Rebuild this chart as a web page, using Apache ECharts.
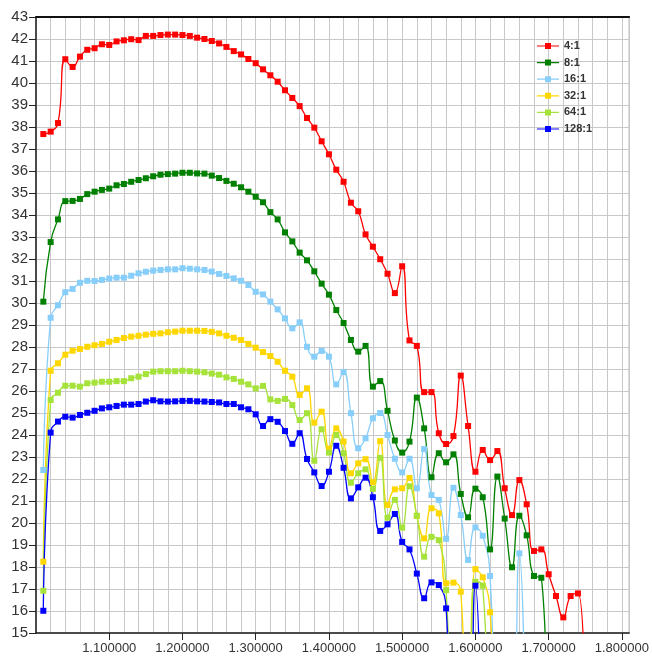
<!DOCTYPE html>
<html>
<head>
<meta charset="utf-8">
<script src="https://cdn.jsdelivr.net/npm/echarts@6/dist/echarts.min.js"></script>
<style>html,body{margin:0;padding:0;background:#fff;}#c{width:652px;height:660px;}</style>
</head>
<body>
<div id="c"></div>
<script>
var xs = [1.01,1.02,1.03,1.04,1.05,1.06,1.07,1.08,1.09,1.10,
  1.11,1.12,1.13,1.14,1.15,1.16,1.17,1.18,1.19,1.20,
  1.21,1.22,1.23,1.24,1.25,1.26,1.27,1.28,1.29,1.30,
  1.31,1.32,1.33,1.34,1.35,1.36,1.37,1.38,1.39,1.40,
  1.41,1.42,1.43,1.44,1.45,1.46,1.47,1.48,1.49,1.50,
  1.51,1.52,1.53,1.54,1.55,1.56,1.57,1.58,1.59,1.60,
  1.61,1.62,1.63,1.64,1.65,1.66,1.67,1.68,1.69,1.70,
  1.71,1.72,1.73,1.74,1.75];

var seriesNames = ['4:1','8:1','16:1','32:1','64:1','128:1'];
var seriesColors = ['#ff0000','#008000','#87cefa','#ffd700','#a6e33a','#0000ff'];

var r4 = [37.68,37.79,38.18,41.08,40.73,41.2,41.51,41.58,41.76,41.73,
  41.89,41.94,41.99,41.95,42.14,42.14,42.18,42.2,42.2,42.18,
  42.14,42.06,42.0,41.91,41.8,41.64,41.45,41.3,41.09,40.9,
  40.62,40.35,40.06,39.67,39.32,38.95,38.41,37.97,37.35,36.76,
  36.06,35.51,34.56,34.17,33.12,32.56,31.99,31.33,30.45,31.67,
  28.3,28.05,25.95,25.95,24.08,23.59,23.95,26.7,24.41,22.33,
  23.32,22.86,23.27,21.58,20.36,21.95,20.85,18.73,18.8,17.67,
  16.68,15.71,16.68,16.8,10];
var r8 = [30.06,32.77,33.8,34.63,34.64,34.73,34.95,35.06,35.14,35.2,
  35.35,35.41,35.51,35.59,35.67,35.76,35.83,35.86,35.88,35.92,
  35.92,35.89,35.88,35.79,35.68,35.55,35.42,35.26,35.06,34.83,
  34.58,34.13,33.8,33.21,32.8,32.29,31.94,31.44,30.88,30.38,
  29.68,29.09,28.32,27.79,28.05,26.2,26.45,25.1,23.75,23.2,
  23.7,25.7,24.3,22.08,23.17,22.76,23.12,21.32,20.26,21.56,
  21.17,18.8,22.11,20.2,17.99,20.33,19.44,17.59,17.51,6];
var r16 = [22.41,29.33,29.9,30.49,30.64,30.92,31.01,31.0,31.05,31.11,
  31.15,31.15,31.24,31.35,31.42,31.47,31.5,31.53,31.53,31.58,
  31.56,31.53,31.5,31.43,31.32,31.23,31.12,31.01,30.82,30.51,
  30.39,30.06,29.71,29.3,28.85,29.12,28.01,27.56,27.82,27.56,
  26.3,26.86,24.99,23.4,23.85,24.76,25.0,24.0,22.92,22.3,
  22.92,21.58,23.36,21.27,21.05,19.28,21.6,20.36,18.32,19.8,
  19.42,17.59,8,7,8,18.62,8];
var r32 = [18.24,26.92,27.26,27.65,27.83,27.91,28.01,28.08,28.14,28.24,
  28.32,28.41,28.47,28.51,28.56,28.6,28.62,28.67,28.7,28.74,
  28.74,28.74,28.73,28.69,28.62,28.51,28.42,28.32,28.14,27.97,
  27.77,27.59,27.33,26.92,26.65,25.82,26.12,24.56,25.06,23.38,
  24.3,23.7,22.26,22.71,22.9,21.85,23.72,20.82,21.53,21.58,
  22.05,20.32,19.3,20.67,20.44,17.26,17.29,16.88,8,17.9,
  17.53,15.94,8];
var r64 = [16.92,25.59,25.92,26.24,26.24,26.2,26.35,26.38,26.42,26.42,
  26.45,26.45,26.58,26.65,26.77,26.88,26.9,26.9,26.9,26.92,
  26.9,26.88,26.85,26.79,26.74,26.62,26.55,26.42,26.3,26.12,
  26.23,25.62,25.55,25.64,25.36,24.68,24.99,22.83,24.26,23.2,
  24.0,23.17,21.83,22.26,22.44,21.55,22.96,20.24,21.05,19.79,
  21.67,20.33,18.47,19.37,19.22,16.95,8,7,8,17.33,
  17.15,8];
var r128 = [16.01,24.11,24.61,24.83,24.79,24.91,25.01,25.1,25.21,25.26,
  25.32,25.38,25.38,25.41,25.52,25.58,25.53,25.52,25.53,25.55,
  25.55,25.53,25.52,25.5,25.48,25.41,25.41,25.26,25.17,24.94,
  24.41,24.72,24.6,24.18,23.6,24.08,22.91,22.3,21.68,22.33,
  23.51,22.51,21.12,21.62,22.06,21.17,19.64,19.94,20.41,19.14,
  18.8,17.7,16.58,17.3,17.18,16.12,7,6,7,17.15,
  7];

var allValues = [r4, r8, r16, r32, r64, r128];

var legendIcon = 'path://M0,0 L0.01,0 L0,0.01 Z M0,12 L0.01,12 L0,11.99 Z M22,0 L21.99,0 L22,0.01 Z ' +
  'M0,5.4 L8,5.4 L8,3 L14,3 L14,5.4 L22,5.4 L22,6.6 L14,6.6 L14,9 L8,9 L8,6.6 L0,6.6 Z';

var series = allValues.map(function (vals, k) {
  return {
    name: seriesNames[k],
    type: 'line',
    smooth: 0.5,
    clip: true,
    symbol: 'rect',
    symbolSize: 6,
    showAllSymbol: true,
    color: seriesColors[k],
    lineStyle: { width: 1.3, color: seriesColors[k] },
    itemStyle: { color: seriesColors[k] },
    data: vals.map(function (v, i) { return [xs[i], v]; }),
    animation: false
  };
});

var chart = echarts.init(document.getElementById('c'), null, { renderer: 'canvas' });
chart.setOption({
  animation: false,
  backgroundColor: '#ffffff',
  grid: {
    left: 36, top: 17, right: 20, bottom: 27,
    show: true, borderColor: '#909090', borderWidth: 1, containLabel: false
  },
  legend: {
    data: seriesNames.map(function (n) { return { name: n, icon: legendIcon }; }),
    orient: 'vertical',
    left: 532,
    top: 35,
    itemWidth: 22,
    itemHeight: 12,
    itemGap: 4.6,
    itemStyle: { borderWidth: 0 },
    textStyle: { fontSize: 11, fontWeight: 'bold', color: '#333', fontFamily: 'Liberation Sans' }
  },
  xAxis: [{
    type: 'value',
    min: 1.0,
    max: 1.81,
    interval: 0.1,
    position: 'bottom',
    axisLine: { show: true, onZero: false, lineStyle: { color: '#222', width: 1.5 } },
    axisTick: { show: true, length: 7, lineStyle: { color: '#222' } },
    minorTick: { show: false, splitNumber: 5 },
    splitLine: { show: true, lineStyle: { color: '#c8c8c8', width: 1 } },
    minorSplitLine: { show: true, lineStyle: { color: '#c8c8c8', width: 1 } },
    axisLabel: {
      margin: 9,
      fontSize: 13,
      color: '#333',
      fontFamily: 'Liberation Sans',
      showMinLabel: false,
      showMaxLabel: false,
      formatter: function (v) { return v.toFixed(6); }
    }
  }, {
    type: 'value',
    min: 1.0,
    max: 1.81,
    interval: 0.1,
    position: 'top',
    z: 10,
    axisLine: { show: true, onZero: false, lineStyle: { color: '#111', width: 1.8 } },
    axisTick: { show: false },
    axisLabel: { show: false },
    splitLine: { show: false }
  }],
  yAxis: {
    type: 'value',
    min: 15,
    max: 43,
    interval: 1,
    axisLine: { show: true, onZero: false, lineStyle: { color: '#222', width: 1.5 } },
    axisTick: { show: true, length: 7, lineStyle: { color: '#222' } },
    splitLine: { show: true, lineStyle: { color: '#c8c8c8', width: 1 } },
    axisLabel: { margin: 8, fontSize: 15, color: '#333', fontFamily: 'Liberation Sans' }
  },
  series: series
});
</script>
</body>
</html>
